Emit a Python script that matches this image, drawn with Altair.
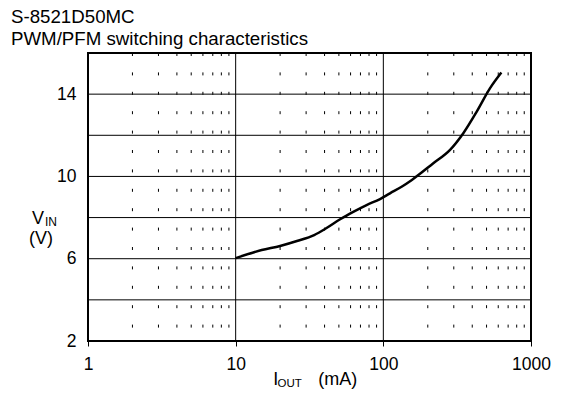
import altair as alt
import pandas as pd

# Curve data
iout = [10, 15, 20, 26, 34, 41, 51, 63, 77, 95, 111, 133, 156, 218, 283, 348, 429, 527, 630]
vin = [6.03, 6.42, 6.62, 6.86, 7.15, 7.48, 7.92, 8.29, 8.61, 8.90, 9.18, 9.50, 9.83, 10.64, 11.29, 12.10, 13.15, 14.28, 15.05]

x_ticks = [1, 10, 100, 1000]
y_ticks = [2, 6, 10, 14]
major_x = [10, 100]
major_y = [4, 6, 8, 10, 12, 14]
minor_x = [m * d for d in (1, 10, 100) for m in range(2, 10)]

title_lines = ["S-8521D50MC", "PWM/PFM switching characteristics"]

FONT = "Arial, Liberation Sans, sans-serif"

xscale = alt.Scale(type="log", domain=[1, 1000], nice=False)
yscale = alt.Scale(domain=[2, 16], nice=False, zero=False)

xaxis = alt.Axis(values=x_ticks, format="d", grid=False, domain=False, ticks=True,
                 tickSize=5, tickColor="black", tickWidth=1, labelFontSize=17.5,
                 labelColor="black", labelFont=FONT, labelPadding=9, title=None,
                 labelFlush=False)
yaxis = alt.Axis(values=y_ticks, grid=False, domain=False, ticks=False,
                 labelFontSize=17.5, labelColor="black", labelFont=FONT,
                 labelPadding=12, title=None)

curve_df = pd.DataFrame({"iout": iout, "vin": vin})

hgrid = alt.Chart(pd.DataFrame({"v": major_y})).mark_rule(color="black", strokeWidth=1).encode(
    y=alt.Y("v:Q", scale=yscale, axis=yaxis)
)
vgrid = alt.Chart(pd.DataFrame({"x": major_x})).mark_rule(color="black", strokeWidth=1).encode(
    x=alt.X("x:Q", scale=xscale, axis=xaxis)
)
minor = alt.Chart(pd.DataFrame({"x": minor_x})).mark_rule(
    color="black", strokeWidth=1, strokeDash=[3, 16.4]
).encode(
    x=alt.X("x:Q", scale=xscale, axis=xaxis),
    y=alt.datum(16, scale=yscale),
    y2=alt.datum(2),
)
line = alt.Chart(curve_df).mark_line(color="black", strokeWidth=2.5, interpolate="monotone").encode(
    x=alt.X("iout:Q", scale=xscale, axis=xaxis),
    y=alt.Y("vin:Q", scale=yscale, axis=yaxis),
)


def label(text, x, y, size=18):
    return alt.Chart(pd.DataFrame({"t": [text]})).mark_text(
        align="left", baseline="alphabetic", fontSize=size, font=FONT, color="black"
    ).encode(text="t:N", x=alt.value(x), y=alt.value(y))


texts = [
    label(title_lines[0], -77, -30, 18.7),
    label(title_lines[1], -77, -8.3, 18.7),
    label("I", 185.3, 332),
    label("OUT", 189.5, 333.5, 11.5),
    label("(mA)", 230.3, 332),
    label("V", -56, 171.3),
    label("IN", -43, 173, 12),
    label("(V)", -59, 190.5),
]

chart = alt.layer(hgrid, vgrid, minor, line, *texts).properties(
    width=443,
    height=288,
    padding={"left": 80, "top": 45, "right": 20, "bottom": 48},
    autosize=alt.AutoSizeParams(type="none"),
).configure(background="white").configure_view(stroke="black", strokeWidth=2)

chart.save("out.html", embed_options={"renderer": "svg", "actions": False})
